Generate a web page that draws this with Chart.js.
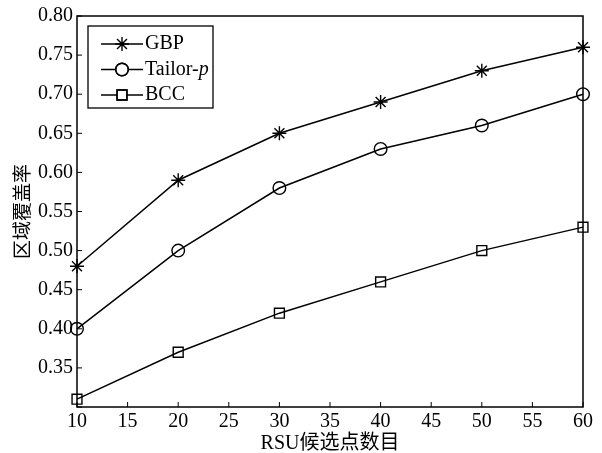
<!DOCTYPE html>
<html>
<head>
<meta charset="utf-8">
<script src="https://cdn.jsdelivr.net/npm/chart.js@4.4.0/dist/chart.umd.min.js"></script>
<style>
  html, body { margin: 0; padding: 0; background: #fff; }
  #wrap { width: 602px; height: 453px; }
</style>
</head>
<body>
<div id="wrap"><canvas id="chart" width="602" height="453"></canvas></div>
<script>
// values
const candidates = [10, 20, 30, 40, 50, 60];
const gbp = [0.48, 0.59, 0.65, 0.69, 0.73, 0.76];
const tailorP = [0.40, 0.50, 0.58, 0.63, 0.66, 0.70];
const bcc = [0.31, 0.37, 0.42, 0.46, 0.50, 0.53];
const seriesNames = ['GBP', 'Tailor-p', 'BCC'];
const xTitle = 'RSU候选点数目';
const yTitle = '区域覆盖率';

const FONT = '"Liberation Serif", "Times New Roman", "Noto Sans CJK SC", serif';

function points(vals) {
    return candidates.map((c, i) => ({ x: c, y: vals[i] }));
}

function makeSet(label, vals, style, radius) {
    return {
        label: label,
        data: points(vals),
        borderColor: '#000',
        borderWidth: 1.5,
        backgroundColor: '#fff',
        pointStyle: style,
        pointRadius: radius,
        pointBorderColor: '#000',
        pointBackgroundColor: 'rgba(0,0,0,0)',
        pointBorderWidth: 1.4,
        tension: 0,
        clip: false
    };
}

// box, inward ticks and the framed legend
const frame = {
    id: 'frame',
    afterDraw(chart) {
        const ctx = chart.ctx;
        const a = chart.chartArea;
        const xs = chart.scales.x, ys = chart.scales.y;
        ctx.save();
        ctx.strokeStyle = '#000';
        ctx.lineWidth = 1.5;
        ctx.strokeRect(a.left, a.top, a.right - a.left, a.bottom - a.top);

        ctx.lineWidth = 1;
        ctx.beginPath();
        xs.ticks.forEach(t => {
            const px = xs.getPixelForValue(t.value);
            ctx.moveTo(px, a.bottom);
            ctx.lineTo(px, a.bottom - 5);
        });
        ys.ticks.forEach(t => {
            const py = ys.getPixelForValue(t.value);
            ctx.moveTo(a.left, py);
            ctx.lineTo(a.left + 5, py);
        });
        ctx.stroke();

        // legend
        const lx = a.left + 11, ly = a.top + 10, lw = 125, lh = 82;
        ctx.fillStyle = '#fff';
        ctx.fillRect(lx, ly, lw, lh);
        ctx.lineWidth = 1.3;
        ctx.strokeRect(lx, ly, lw, lh);

        chart.data.datasets.forEach((ds, i) => {
            const cy = ly + 18 + i * 25.5;
            ctx.lineWidth = 1.5;
            ctx.strokeStyle = '#000';
            ctx.beginPath();
            ctx.moveTo(lx + 13, cy);
            ctx.lineTo(lx + 55, cy);
            ctx.stroke();
            ctx.fillStyle = '#fff';
            ctx.lineWidth = 1.4;
            Chart.helpers.drawPoint(ctx, {
                pointStyle: ds.pointStyle,
                radius: ds.pointRadius,
                borderWidth: 1.4,
                rotation: 0
            }, lx + 34, cy);
            if (ds.pointStyle !== 'star') ctx.stroke();

            ctx.fillStyle = '#000';
            ctx.textBaseline = 'middle';
            ctx.textAlign = 'left';
            ctx.font = '20px ' + FONT;
            const label = ds.label;
            if (label.endsWith('-p')) {
                const base = label.slice(0, -1);
                ctx.fillText(base, lx + 57, cy);
                const w = ctx.measureText(base).width;
                ctx.font = 'italic 20px ' + FONT;
                ctx.fillText('p', lx + 57 + w, cy);
            } else {
                ctx.fillText(label, lx + 57, cy);
            }
        });
        ctx.restore();
    }
};

new Chart(document.getElementById('chart').getContext('2d'), {
    type: 'line',
    data: {
        datasets: [
            makeSet(seriesNames[0], gbp, 'star', 7),
            makeSet(seriesNames[1], tailorP, 'circle', 6.3),
            makeSet(seriesNames[2], bcc, 'rect', 7)
        ]
    },
    options: {
        responsive: false,
        animation: false,
        layout: { padding: { top: 15, right: 19, left: 0, bottom: 0 } },
        plugins: {
            legend: { display: false },
            tooltip: { enabled: false }
        },
        scales: {
            x: {
                type: 'linear',
                min: 10,
                max: 60,
                grid: { display: false, drawTicks: false },
                border: { display: false },
                ticks: {
                    stepSize: 5,
                    padding: 3,
                    color: '#000',
                    font: { family: FONT, size: 20 },
                    maxRotation: 0
                },
                title: {
                    display: true,
                    text: xTitle,
                    color: '#000',
                    font: { family: FONT, size: 20, lineHeight: 0.9 },
                    padding: { top: 0, bottom: 0 }
                },
                afterFit(scale) { scale.height = 46; }
            },
            y: {
                type: 'linear',
                min: 0.3,
                max: 0.8,
                grid: { display: false, drawTicks: false },
                border: { display: false },
                ticks: {
                    stepSize: 0.05,
                    padding: 4,
                    color: '#000',
                    font: { family: FONT, size: 20 },
                    callback: v => (Math.abs(v - 0.3) < 1e-6 ? '' : v.toFixed(2))
                },
                title: {
                    display: true,
                    text: yTitle,
                    color: '#000',
                    font: { family: FONT, size: 19 },
                    padding: { top: 13, bottom: 0 }
                },
                afterFit(scale) { scale.width = 77; }
            }
        }
    },
    plugins: [frame]
});
</script>
</body>
</html>
